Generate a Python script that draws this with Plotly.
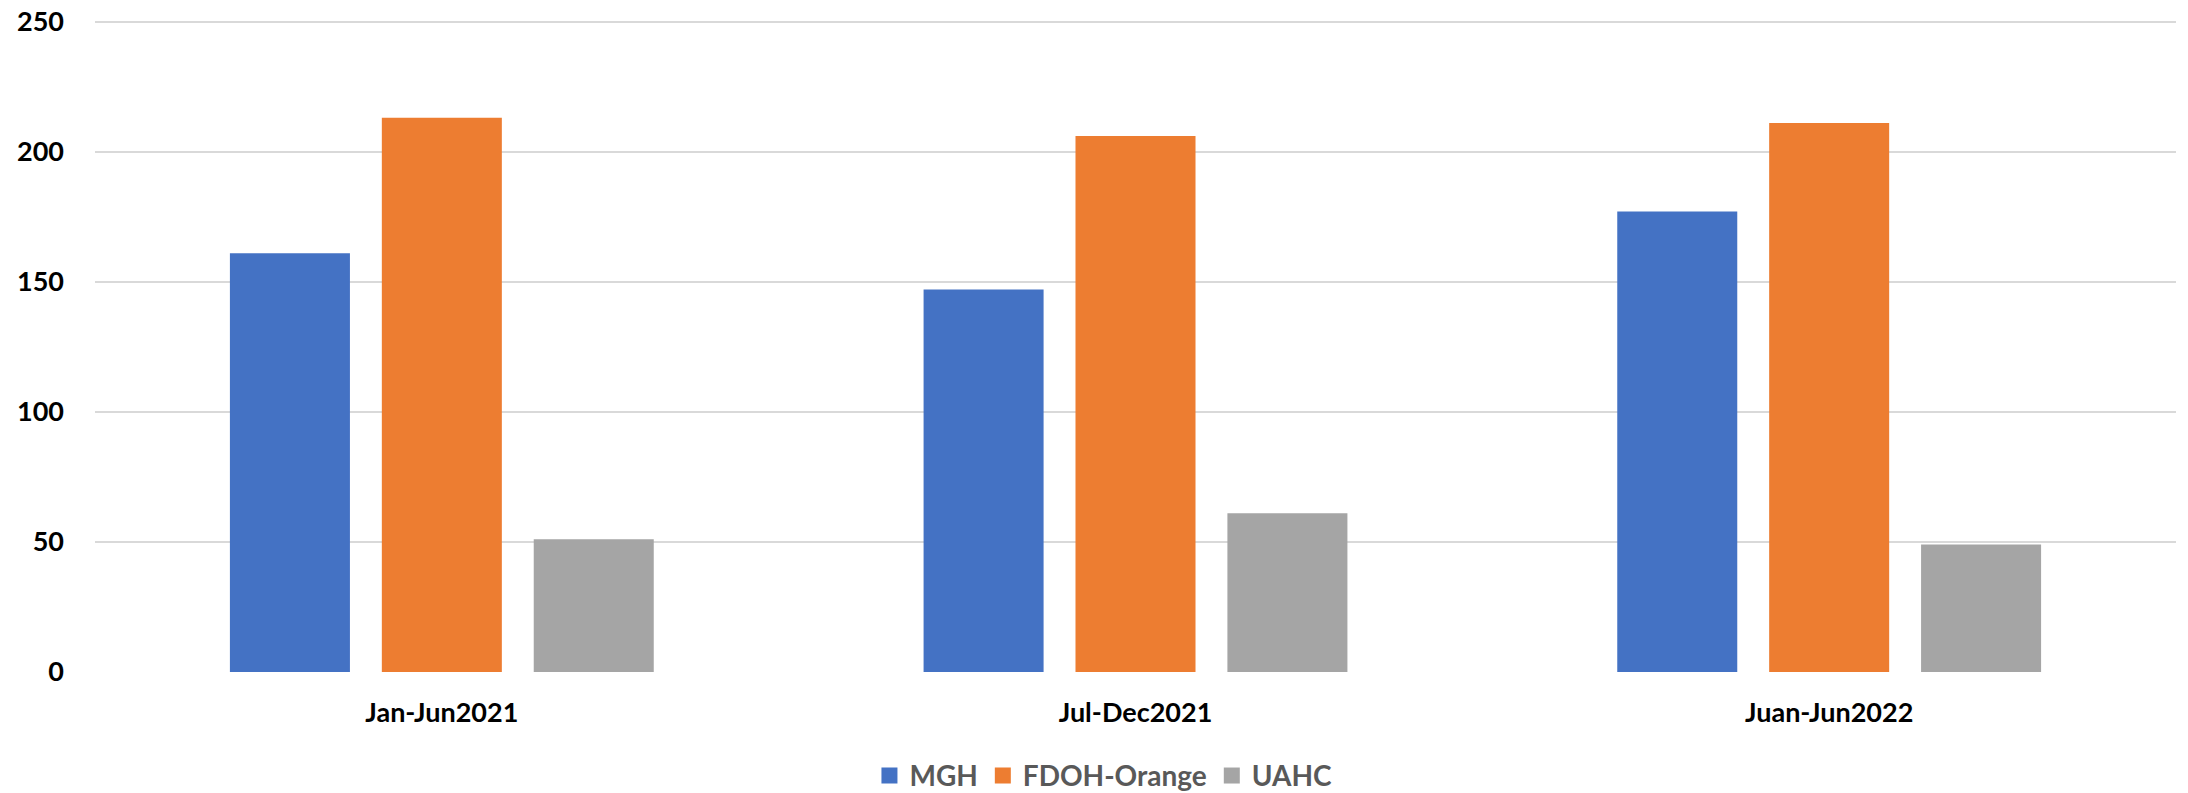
import plotly.graph_objects as go

categories = ["Jan-Jun2021", "Jul-Dec2021", "Juan-Jun2022"]
mgh = [161, 147, 177]
fdoh_orange = [213, 206, 211]
uahc = [51, 61, 49]
series_names = ["MGH", "FDOH-Orange", "UAHC"]
y_ticks = [0, 50, 100, 150, 200, 250]

colors = ["#4472C4", "#ED7D31", "#A5A5A5"]

fig = go.Figure()
for name, vals, col in zip(series_names, [mgh, fdoh_orange, uahc], colors):
    fig.add_trace(go.Bar(name=name, x=categories, y=vals, marker_color=col,
                         marker_line_width=0, showlegend=False))
# legend entries with larger square swatches
for name, col in zip(series_names, colors):
    fig.add_trace(go.Scatter(name=name, x=[None], y=[None], mode="markers",
                             marker=dict(symbol="square", size=18, color=col),
                             showlegend=True))

font_family = "Lato, 'Open Sans', sans-serif"
fig.update_layout(
    width=2188, height=793,
    paper_bgcolor="white", plot_bgcolor="white",
    margin=dict(l=94.5, r=11.5, t=19.1, b=120.7, autoexpand=False),
    barmode="group", bargap=0.343, bargroupgap=0.21,
    showlegend=True,
    legend=dict(orientation="h", x=0.4846, xanchor="center", y=-0.159, yanchor="middle",
                font=dict(family=font_family, size=28, color="#595959", weight="bold"),
                itemwidth=30, traceorder="normal"),
    font=dict(family=font_family),
)
fig.update_xaxes(showgrid=False, showline=False, zeroline=False, ticks="",
                 tickfont=dict(family=font_family, size=27, color="black", weight="bold"),
                 ticklabelstandoff=22)
fig.update_yaxes(range=[0, 251], tickvals=y_ticks, showgrid=True, gridcolor="#D9D9D9",
                 gridwidth=1.6, zeroline=False, showline=False, ticks="",
                 ticklabeloverflow="allow",
                 tickfont=dict(family=font_family, size=27, color="black", weight="bold"),
                 ticklabelstandoff=30)

fig.write_html("out.html",
               config={"displayModeBar": False},
               post_script="document.body.style.margin='0';document.body.style.overflow='hidden';")
